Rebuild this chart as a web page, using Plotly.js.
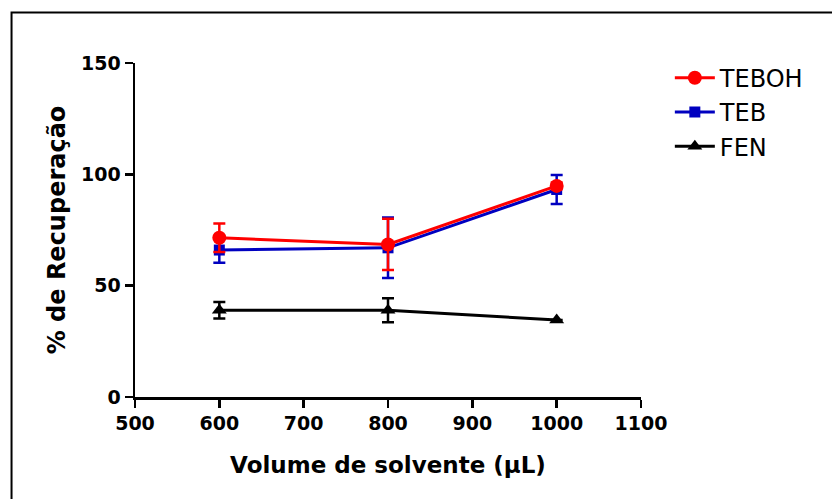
<!DOCTYPE html>
<html>
<head>
<meta charset="utf-8">
<script src="https://cdn.plot.ly/plotly-3.0.1.min.js"></script>
<style>html,body{margin:0;padding:0;background:#fff;}#chart{width:832px;height:499px;}</style>
</head>
<body>
<div id="chart"></div>
<script>
const volumes = [600, 800, 1000];
const tebohValues = [71.5, 68.5, 94.8];
const tebohErrors = [6.4, 11.5, 1.5];
const tebValues = [66, 67, 93.2];
const tebErrors = [5.7, 13.6, 6.5];
const fenValues = [39, 39, 34.6];
const fenErrors = [3.7, 5.4, 0];
const seriesNames = ["TEBOH", "TEB", "FEN"];
const xTicks = [500, 600, 700, 800, 900, 1000, 1100];
const yTicks = [0, 50, 100, 150];

function trace(name, y, err, color, symbol, size, rank) {
  return {
    x: volumes, y: y, name: name, type: 'scatter', mode: 'lines+markers',
    legendrank: rank, legendgroup: name,
    line: {color: color, width: 3},
    marker: {color: color, symbol: symbol, size: size},
    error_y: {type: 'data', array: err, visible: true, color: color, thickness: 2.5, width: 6}
  };
}

const data = [
  trace(seriesNames[2], fenValues, fenErrors, '#000000', 'triangle-up', 13, 3),
  trace(seriesNames[1], tebValues, tebErrors, '#0000c0', 'square', 11, 2),
  trace(seriesNames[0], tebohValues, tebohErrors, '#ff0000', 'circle', 14, 1)
];

const font = "DejaVu Sans, Arial, sans-serif";
const layout = {
  width: 832, height: 499,
  margin: {l: 135, r: 191, t: 63, b: 102},
  paper_bgcolor: '#ffffff', plot_bgcolor: '#ffffff',
  font: {family: font, color: '#000'},
  showlegend: true,
  legend: {x: 1.057, y: 1.022, xanchor: 'left', yanchor: 'top', traceorder: 'normal',
           itemwidth: 40, tracegroupgap: 1,
           font: {size: 24, family: font, color: '#000'}, bgcolor: 'rgba(0,0,0,0)'},
  xaxis: {
    range: [500, 1100], tickvals: xTicks, ticktext: xTicks.map(String),
    showgrid: false, zeroline: false, showline: true, linecolor: '#000', linewidth: 2.5,
    ticks: 'outside', ticklen: 8, tickwidth: 2.5, tickcolor: '#000',
    tickfont: {size: 19, family: font, weight: 'bold'},
    title: {text: 'Volume de solvente (μL)', font: {size: 23, family: font, weight: 'bold'}, standoff: 24}
  },
  yaxis: {
    range: [0, 150], tickvals: yTicks, ticktext: yTicks.map(String),
    showgrid: false, zeroline: false, showline: true, linecolor: '#000', linewidth: 2.5,
    ticks: 'outside', ticklen: 8, tickwidth: 2.5, tickcolor: '#000',
    tickfont: {size: 19, family: font, weight: 'bold'},
    title: {text: '% de Recuperação', font: {size: 24, family: font, weight: 'bold'}, standoff: 9}
  },
  shapes: [{type: 'path', xref: 'paper', yref: 'paper',
            path: 'M 1.5 1.151 L -0.244 1.151 L -0.244 -0.5',
            line: {color: '#000', width: 2}}]
};

Plotly.newPlot('chart', data, layout, {displayModeBar: false, staticPlot: true});
</script>
</body>
</html>
